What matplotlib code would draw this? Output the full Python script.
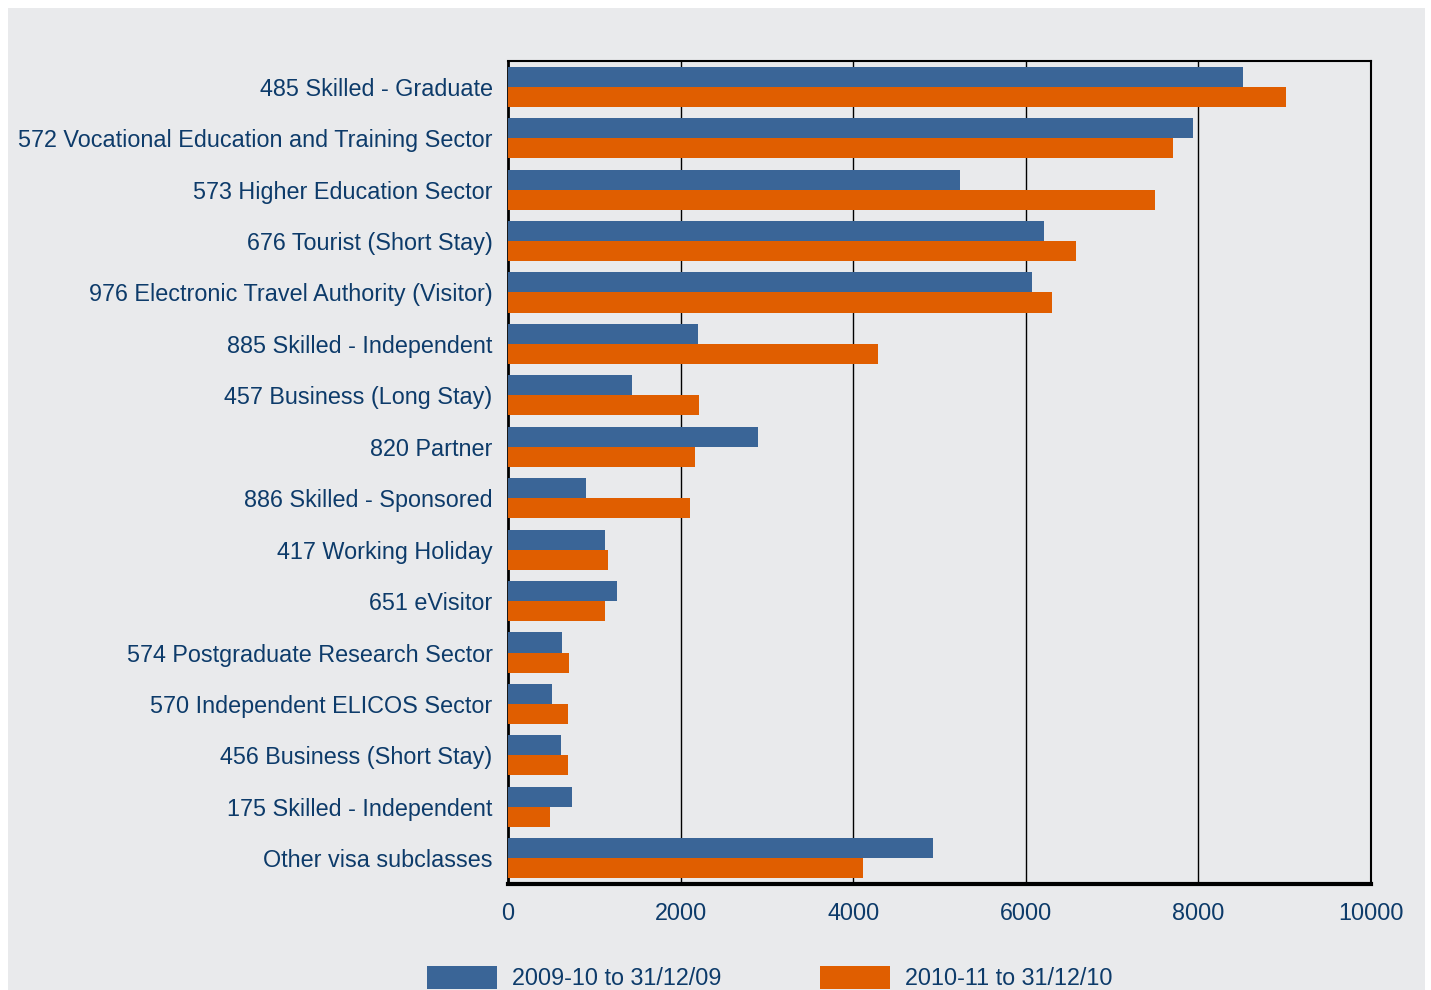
import numpy as np
import matplotlib
matplotlib.use('Agg')
import matplotlib.pyplot as plt
from matplotlib.patches import Rectangle

plt.rcParams['font.family'] = ['Liberation Sans', 'DejaVu Sans']

# 数据
categories = [
    '485 Skilled - Graduate',
    '572 Vocational Education and Training Sector',
    '573 Higher Education Sector',
    '676 Tourist (Short Stay)',
    '976 Electronic Travel Authority (Visitor)',
    '885 Skilled - Independent',
    '457 Business (Long Stay)',
    '820 Partner',
    '886 Skilled - Sponsored',
    '417 Working Holiday',
    '651 eVisitor',
    '574 Postgraduate Research Sector',
    '570 Independent ELICOS Sector',
    '456 Business (Short Stay)',
    '175 Skilled - Independent',
    'Other visa subclasses',
]
values_2009 = [8520, 7940, 5240, 6210, 6070, 2200, 1440, 2900, 900, 1120, 1260, 630, 510, 610, 740, 4920]
values_2010 = [9020, 7710, 7500, 6580, 6300, 4290, 2210, 2170, 2110, 1160, 1120, 710, 695, 695, 490, 4110]
series_labels = ['2009-10 to 31/12/09', '2010-11 to 31/12/10']
xticks = [0, 2000, 4000, 6000, 8000, 10000]

BLUE = '#3a6597'
ORANGE = '#e05e00'
TEXT = '#0d3b6a'
PANEL = '#e9eaec'
FS = 16.8

fig = plt.figure(figsize=(14.31, 9.9), dpi=100)
fig.patch.set_facecolor('white')
W, H = 1431, 990
fig.patches.append(Rectangle((8 / W, 0), (1425 - 8) / W, (990 - 8) / H,
                             transform=fig.transFigure, facecolor=PANEL,
                             edgecolor='none', zorder=-10))

ax = fig.add_axes([508 / W, 1 - 884 / H, (1371 - 508) / W, (884 - 61) / H])
ax.set_facecolor(PANEL)

n = len(categories)
y = np.arange(n)
bh = 0.39
b1 = ax.barh(y - bh / 2, values_2009, height=bh, color=BLUE, zorder=3, label=series_labels[0])
b2 = ax.barh(y + bh / 2, values_2010, height=bh, color=ORANGE, zorder=3, label=series_labels[1])

ax.set_ylim(n - 0.5, -0.5)
ax.set_xlim(0, 10000)
ax.set_yticks(y)
ax.set_yticklabels(categories)
ax.set_xticks(xticks)
ax.set_xticklabels([str(t) for t in xticks])
ax.tick_params(axis='both', length=0, labelsize=FS, colors=TEXT)
ax.tick_params(axis='y', pad=11)
ax.tick_params(axis='x', pad=13)

for s in ax.spines.values():
    s.set_color('black')
    s.set_linewidth(1.5)
ax.spines['bottom'].set_linewidth(3)
ax.spines['left'].set_linewidth(2)

for t in xticks[1:-1]:
    ax.axvline(t, color='black', linewidth=1, zorder=1)

# 图例
leg = fig.legend(handles=[b1, b2], labels=series_labels, loc='lower left',
                 bbox_to_anchor=(406 / W, -21 / H), ncol=2, frameon=False,
                 fontsize=FS, handlelength=3.0, handleheight=1.15,
                 columnspacing=4.2, handletextpad=0.65, labelcolor=TEXT)

fig.savefig('out.png', dpi=100, facecolor=fig.get_facecolor())
